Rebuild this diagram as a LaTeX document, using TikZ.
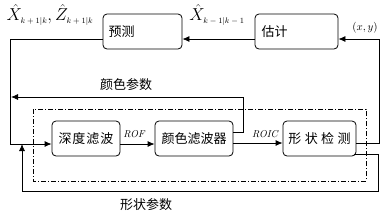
\documentclass[tikz,border=0pt]{standalone}
\usepackage{fontspec}
\newfontfamily\cjk{Noto Sans CJK SC}
\usetikzlibrary{calc,arrows.meta}
\newcommand\subsz[1]{\mbox{\fontsize{8}{9}\selectfont$#1$}}
\tikzset{
  blk/.style={draw,rounded corners=4pt,minimum height=35pt,inner sep=0pt,
    font=\cjk\fontsize{13}{15}\selectfont},
  arr/.style={-{Latex[length=7pt,width=6pt]}},
  lbl/.style={inner sep=0pt,font=\cjk\fontsize{13}{15}\selectfont}
}
\begin{document}
\begin{tikzpicture}[x=1pt,y=-1pt,line width=0.8pt]
\useasboundingbox (0,0) rectangle (391,215);
\node[blk,minimum width=79pt,text width=68pt,align=left] (pred) at (142.5,31.5) {预测};
\node[blk,minimum width=83pt,text width=70pt,align=left] (est) at (296.5,31.5) {估计};
\node[blk,minimum width=68pt] (dep) at (86,138.5) {深\hspace{1pt}度\hspace{1pt}滤\hspace{1pt}波};
\node[blk,minimum width=78pt] (col) at (194,138.5) {颜色滤波器};
\node[blk,minimum width=73pt] (sha) at (319.5,138.5) {形\hspace{3.5pt}状\hspace{3.5pt}检\hspace{3.5pt}测};

\draw[dash pattern=on 5pt off 2pt on 1pt off 2pt] (33,109) rectangle (366,181);

\node[inner sep=0pt,font=\fontsize{16}{19}\selectfont] (lpred) at (50,15) {$\hat{X}_{\subsz{k+1|k}},\hat{Z}_{\subsz{k+1|k}}$};
\node[inner sep=0pt,font=\fontsize{16}{19}\selectfont] (lest) at (217,15) {$\hat{X}_{\subsz{k-1|k-1}}$};
\node[inner sep=0pt,font=\fontsize{11}{13}\selectfont] (lxy) at (365,28) {$(x, y)$};
\node[lbl] (lcol) at (126,85) {颜色参数};
\node[lbl] (lsha) at (146,205) {形状参数};
\node[inner sep=0pt,font=\itshape\fontsize{10}{12}\selectfont] (lrof) at (134,134) {ROF};
\node[inner sep=0pt,font=\itshape\fontsize{10}{12}\selectfont] (lroic) at (265,134) {ROIC};

\coordinate (cpend) at (11,97);
\coordinate (inl) at (22,144);
\draw[arr] ($(est.west)+(0,7.5)$) -- ($(pred.east)+(0,7.5)$);
\draw[arr] ($(pred.west)+(0,7.5)$) -- ++(-92,0) |- ($(dep.west)+(0,5.5)$);
\draw[arr] ($(dep.east)+(0,5.5)$) -- ($(col.west)+(0,5.5)$);
\draw[arr] ($(col.east)+(0,4.5)$) -- ($(sha.west)+(0,4.5)$);
\draw[arr] ($(sha.east)+(0,4.5)$) -- ++(23,0) |- ($(est.east)+(0,7.5)$);
\draw[arr] ($(col.east)+(0,-6.5)$) -- ++(10,0) |- (cpend);
\draw[arr] ($(sha.east)+(-2,16)$) -- ++(24,0) -- ++(0,36.5) -| (inl);
\end{tikzpicture}
\end{document}
